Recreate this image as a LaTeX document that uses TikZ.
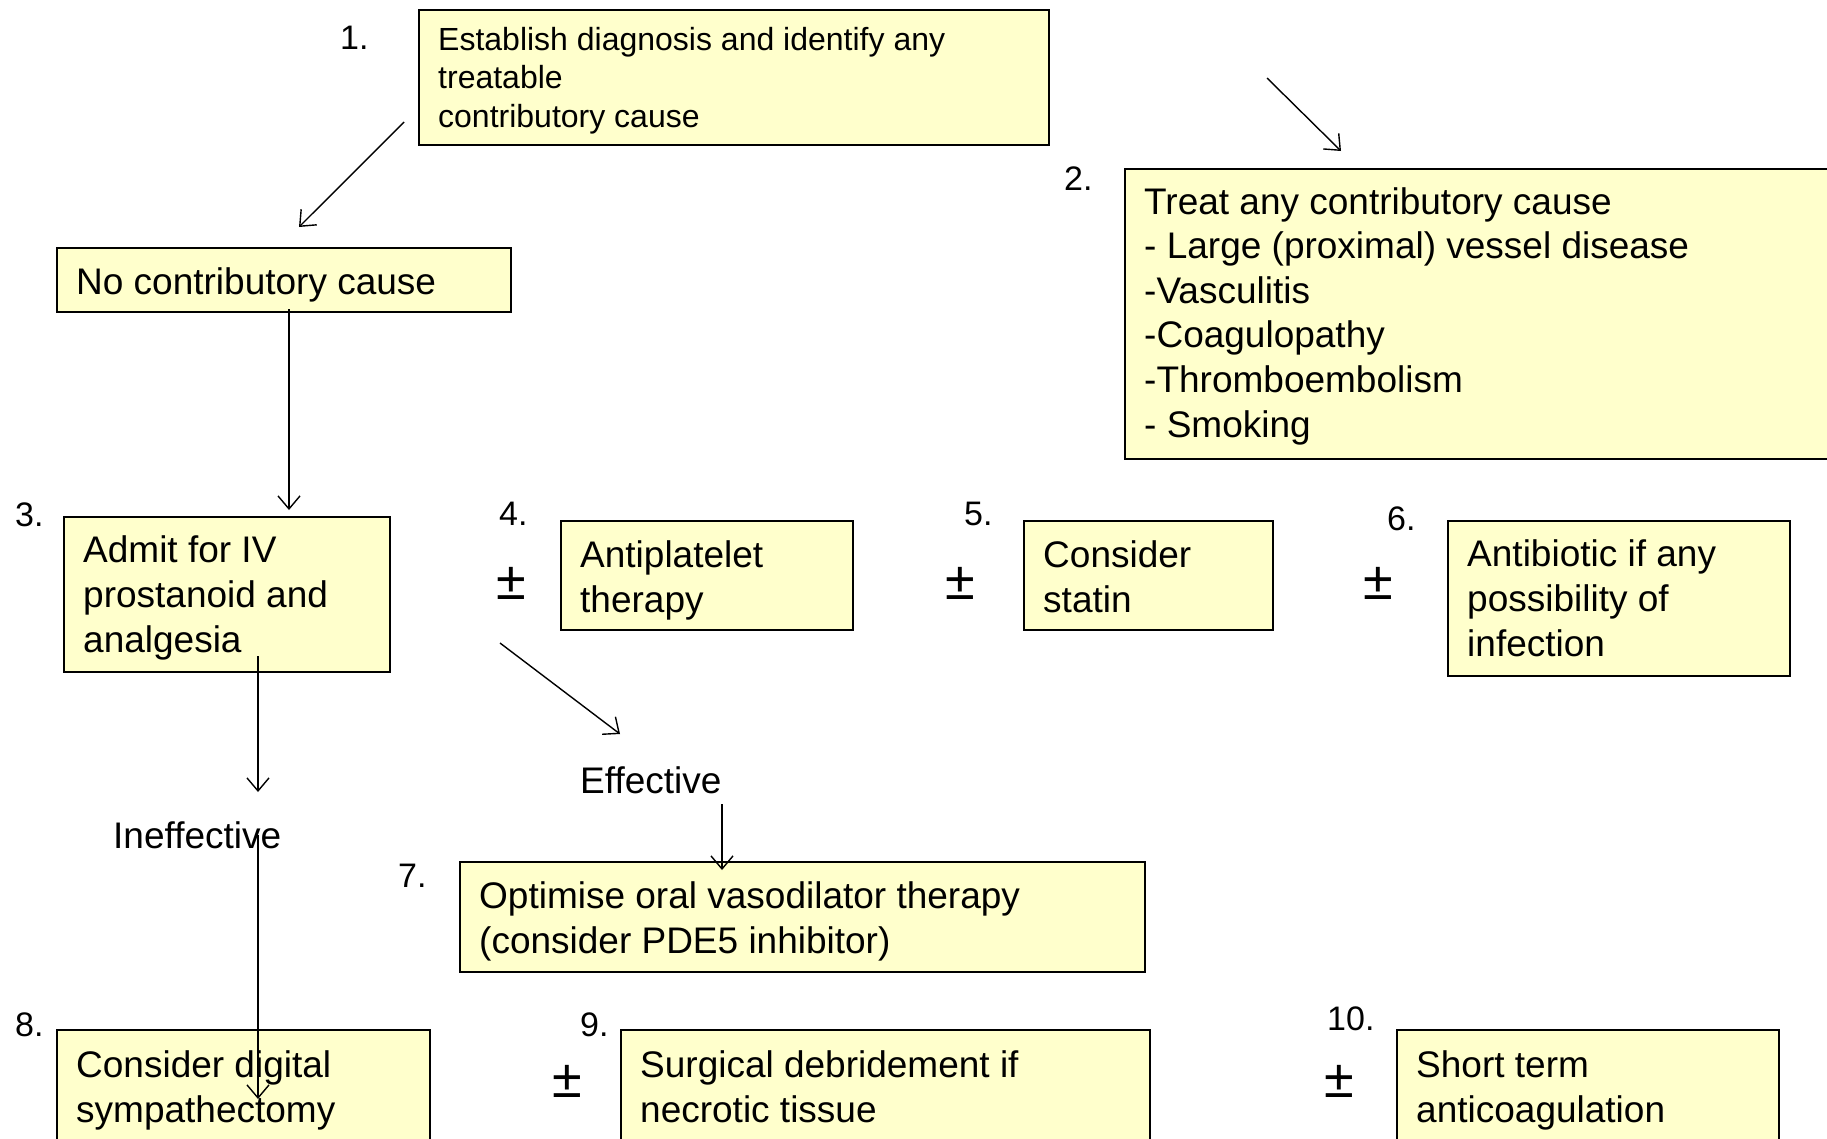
\documentclass[tikz,border=0pt]{standalone}
\usepackage{fontspec}
\setmainfont{Liberation Sans}
\usetikzlibrary{arrows.meta}
\definecolor{boxfill}{HTML}{FFFFCC}
\tikzset{
 box/.style={draw=black, line width=1.8pt, fill=boxfill, inner sep=0pt, anchor=north west},
 big/.style={font=\fontsize{37}{44.6}\selectfont, inner sep=0pt, anchor=base west, align=left},
 small/.style={font=\fontsize{32}{38.5}\selectfont, inner sep=0pt, anchor=base west, align=left},
 num/.style={font=\fontsize{34}{40}\selectfont, inner sep=0pt, anchor=base west},
 pm/.style={font=\fontsize{54}{60}\selectfont, inner sep=0pt},
 arr/.style={line width=1.4pt, -{Straight Barb[length=13pt,width=22pt,line width=1.4pt]}},
}
\begin{document}
\begin{tikzpicture}[x=1pt,y=-1pt]
\path[use as bounding box, fill=white] (0,0) rectangle (1827,1138);
\clip (0,0) rectangle (1827,1138);

% boxes
\node[box, minimum width=630pt, minimum height=135pt] (b1) at (418,9) {};
\node[box, minimum width=716pt, minimum height=290pt] (b2) at (1124,168) {};
\node[box, minimum width=454pt, minimum height=64pt] (nc) at (56,247) {};
\node[box, minimum width=326pt, minimum height=155pt] (b3) at (63,516) {};
\node[box, minimum width=292pt, minimum height=109pt] (b4) at (560,520) {};
\node[box, minimum width=249pt, minimum height=109pt] (b5) at (1023,520) {};
\node[box, minimum width=342pt, minimum height=155pt] (b6) at (1447,520) {};
\node[box, minimum width=685pt, minimum height=110pt] (b7) at (459,861) {};
\node[box, minimum width=373pt, minimum height=130pt] (b8) at (56,1029) {};
\node[box, minimum width=529pt, minimum height=130pt] (b9) at (620,1029) {};
\node[box, minimum width=382pt, minimum height=130pt] (b10) at (1396,1029) {};

% texts (anchored at the baseline of their last line)
\node[small] (t1) at (438,127) {Establish diagnosis and identify any\\treatable\\contributory cause};
\node[big] (t2) at (1144,437) {Treat any contributory cause\\- Large (proximal) vessel disease\\-Vasculitis\\-Coagulopathy\\-Thromboembolism\\- Smoking};
\node[big] (tnc) at (76,294) {No contributory cause};
\node[big] (t3) at (83,652) {Admit for IV\\prostanoid and\\analgesia};
\node[big] (t4) at (580,612) {Antiplatelet\\therapy};
\node[big] (t5) at (1043,612) {Consider\\statin};
\node[big] (t6) at (1467,656) {Antibiotic if any\\possibility of\\infection};
\node[big] (eff) at (580,793) {Effective};
\node[big] (ineff) at (113,848) {Ineffective};
\node[big] (t7) at (479,953) {Optimise oral vasodilator therapy\\(consider PDE5 inhibitor)};
\node[big] (t8) at (76,1122) {Consider digital\\sympathectomy};
\node[big] (t9) at (640,1122) {Surgical debridement if\\necrotic tissue};
\node[big] (t10) at (1416,1122) {Short term\\anticoagulation};

% numbers
\node[num] (n1) at (340,49) {1.};
\node[num] (n2) at (1064,190) {2.};
\node[num] (n3) at (15,526) {3.};
\node[num] (n4) at (499,525) {4.};
\node[num] (n5) at (964,525) {5.};
\node[num] (n6) at (1387,530) {6.};
\node[num] (n7) at (398,887) {7.};
\node[num] (n8) at (15,1036) {8.};
\node[num] (n9) at (580,1036) {9.};
\node[num] (n10) at (1327,1030) {10.};

% plus-minus
\node[pm] (p4) at (511,583) {±};
\node[pm] (p5) at (960,583) {±};
\node[pm] (p6) at (1378,583) {±};
\node[pm] (p9) at (567,1081) {±};
\node[pm] (p10) at (1339,1081) {±};

% arrow end points
\coordinate (a1s) at (404,122); \coordinate (a1e) at (299,227);
\coordinate (a2s) at (1267,78); \coordinate (a2e) at (1341,151);
\coordinate (a3s) at (289,309); \coordinate (a3e) at (289,510);
\coordinate (a4s) at (258,656); \coordinate (a4e) at (258,792);
\coordinate (a5s) at (500,643); \coordinate (a5e) at (620,734);
\coordinate (a6s) at (722,804); \coordinate (a6e) at (722,870);
\coordinate (a7s) at (258,835); \coordinate (a7e) at (258,1099);

\draw[arr] (a1s) -- (a1e);
\draw[arr] (a2s) -- (a2e);
\draw[arr] (a3s) -- (a3e);
\draw[arr] (a4s) -- (a4e);
\draw[arr] (a5s) -- (a5e);
\draw[arr] (a6s) -- (a6e);
\draw[arr] (a7s) -- (a7e);
\end{tikzpicture}
\end{document}
